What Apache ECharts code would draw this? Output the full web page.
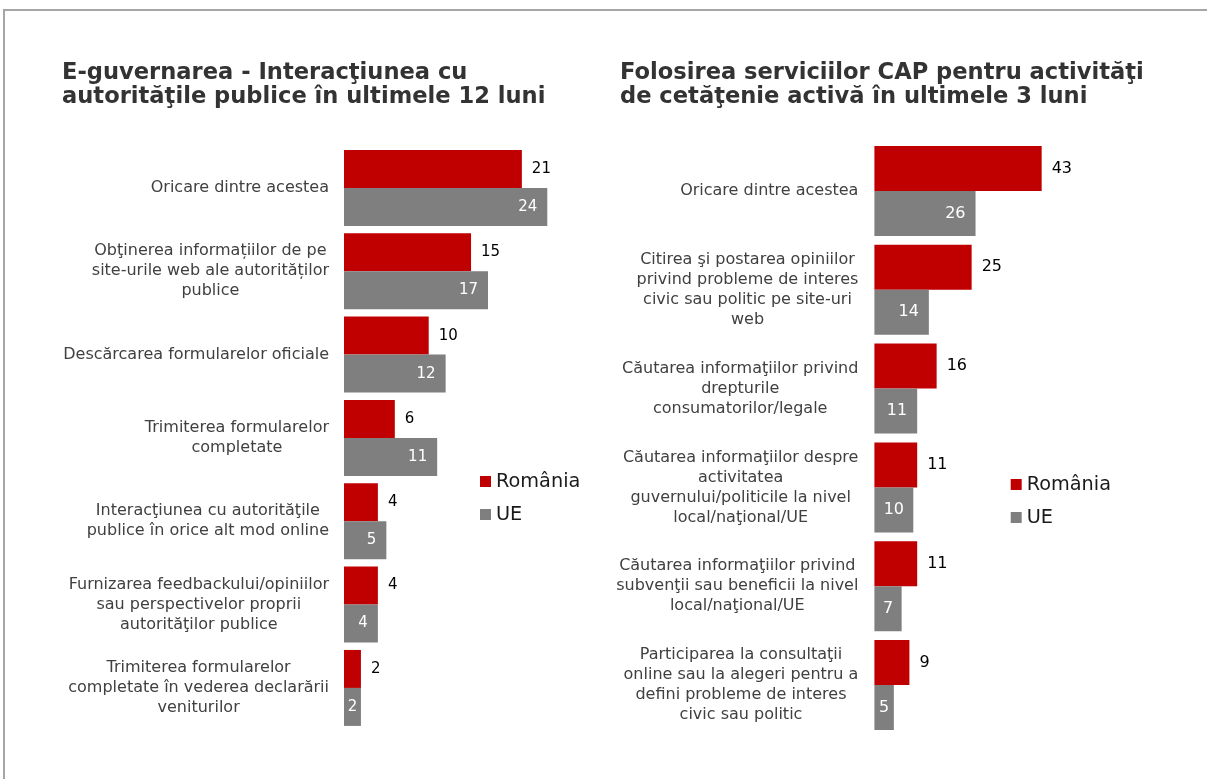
<!DOCTYPE html>
<html>
<head>
<meta charset="utf-8">
<script src="https://cdn.jsdelivr.net/npm/echarts@6/dist/echarts.min.js"></script>
<style>
  html, body { margin: 0; padding: 0; background: #ffffff; }
  #chart { width: 1207px; height: 779px; }
</style>
</head>
<body>
<div id="chart"></div>
<script>
// ---- Data ----
const seriesNames = ['România', 'UE'];

const leftTitle = 'E-guvernarea - Interacţiunea cu\nautorităţile publice în ultimele 12 luni';
const leftCategories = [
  'Oricare dintre acestea',
  'Obţinerea informațiilor de pe\nsite-urile web ale autorităților\npublice',
  'Descărcarea formularelor oficiale',
  'Trimiterea formularelor\ncompletate',
  'Interacţiunea cu autorităţile\npublice în orice alt mod online',
  'Furnizarea feedbackului/opiniilor\nsau perspectivelor proprii\nautorităţilor publice',
  'Trimiterea formularelor\ncompletate în vederea declarării\nveniturilor'
];
const leftRomania = [21, 15, 10, 6, 4, 4, 2];
const leftUE = [24, 17, 12, 11, 5, 4, 2];

const rightTitle = 'Folosirea serviciilor CAP pentru activităţi\nde cetăţenie activă în ultimele 3 luni';
const rightCategories = [
  'Oricare dintre acestea',
  'Citirea şi postarea opiniilor\nprivind probleme de interes\ncivic sau politic pe site-uri\nweb',
  'Căutarea informaţiilor privind\ndrepturile\nconsumatorilor/legale',
  'Căutarea informaţiilor despre\nactivitatea\nguvernului/politicile la nivel\nlocal/naţional/UE',
  'Căutarea informaţiilor privind\nsubvenţii sau beneficii la nivel\nlocal/naţional/UE',
  'Participarea la consultaţii\nonline sau la alegeri pentru a\ndefini probleme de interes\ncivic sau politic'
];
const rightRomania = [43, 25, 16, 11, 11, 9];
const rightUE = [26, 14, 11, 10, 7, 5];

// ---- Styling ----
const FONT = 'DejaVu Sans';
const RED = '#C00000';
const GREY = '#7F7F7F';

const panels = [
  { grid: { left: 344, top: 146.3, width: 254.1, height: 583.3 }, max: 30,
    categories: leftCategories, ro: leftRomania, ue: leftUE, valueFont: 15,
    gap: '8.8%', margin: 15 },
  { grid: { left: 874.4, top: 141.6, width: 194.5, height: 592.8 }, max: 50,
    categories: rightCategories, ro: rightRomania, ue: rightUE, valueFont: 16,
    gap: '8.9%', margin: 16 }
];

// Category labels: centred lines inside a block that sits right-aligned at the axis
function centredLines(text) {
  return text.split('\n').map(function (l) { return '{c|' + l + '}'; }).join('\n');
}

// Keep the white value label inside short bars
function insideData(values, pxPerUnit, fontSize) {
  return values.map(function (v) {
    const textW = String(v).length * fontSize * 0.636;
    const d = Math.max(1, Math.min(10, (v * pxPerUnit - textW) / 2));
    return { value: v, label: { distance: d } };
  });
}

const grids = [], xAxes = [], yAxes = [], series = [];
panels.forEach(function (p, i) {
  grids.push(p.grid);
  xAxes.push({ type: 'value', gridIndex: i, min: 0, max: p.max, show: false });
  yAxes.push({
    type: 'category', gridIndex: i, data: p.categories, inverse: true,
    axisLine: { show: false }, axisTick: { show: false }, splitLine: { show: false },
    axisLabel: {
      interval: 0, margin: p.margin, formatter: centredLines,
      rich: { c: { align: 'center', fontFamily: FONT, fontSize: 16, lineHeight: 20, color: '#404040' } }
    }
  });
  const pxPerUnit = p.grid.width / p.max;
  series.push({
    name: seriesNames[0], type: 'bar', xAxisIndex: i, yAxisIndex: i,
    data: p.ro, barGap: '0%', barCategoryGap: p.gap,
    itemStyle: { color: RED }, emphasis: { disabled: true },
    label: { show: true, position: 'right', distance: 10, color: '#000000',
             fontFamily: FONT, fontSize: p.valueFont }
  });
  series.push({
    name: seriesNames[1], type: 'bar', xAxisIndex: i, yAxisIndex: i,
    data: insideData(p.ue, pxPerUnit, p.valueFont), barGap: '0%', barCategoryGap: p.gap,
    itemStyle: { color: GREY }, emphasis: { disabled: true },
    label: { show: true, position: 'insideRight', distance: 10, color: '#ffffff',
             fontFamily: FONT, fontSize: p.valueFont }
  });
});

const titleStyle = { fontFamily: FONT, fontSize: 22.6, fontWeight: 'bold', lineHeight: 24.5, color: '#333333' };
const legendBase = {
  orient: 'vertical', data: seriesNames, padding: 0, icon: 'rect',
  itemWidth: 11, itemHeight: 11, itemGap: 14,
  textStyle: { fontFamily: FONT, fontSize: 19.3, lineHeight: 19, color: '#1a1a1a', padding: [0, 0, 0, 0] }
};

const chart = echarts.init(document.getElementById('chart'));
chart.setOption({
  backgroundColor: '#ffffff',
  animation: false,
  title: [
    { text: leftTitle, left: 62, top: 60.5, padding: 0, textStyle: titleStyle },
    { text: rightTitle, left: 620, top: 60.5, padding: 0, textStyle: titleStyle }
  ],
  legend: [
    Object.assign({}, legendBase, { left: 480, top: 472 }),
    Object.assign({}, legendBase, { left: 1010.7, top: 475 })
  ],
  graphic: [{
    type: 'polyline', silent: true,
    shape: { points: [[4, 779], [4, 10], [1207, 10]] },
    style: { stroke: '#a6a6a6', lineWidth: 2, fill: null }
  }],
  grid: grids,
  xAxis: xAxes,
  yAxis: yAxes,
  series: series
});
</script>
</body>
</html>
